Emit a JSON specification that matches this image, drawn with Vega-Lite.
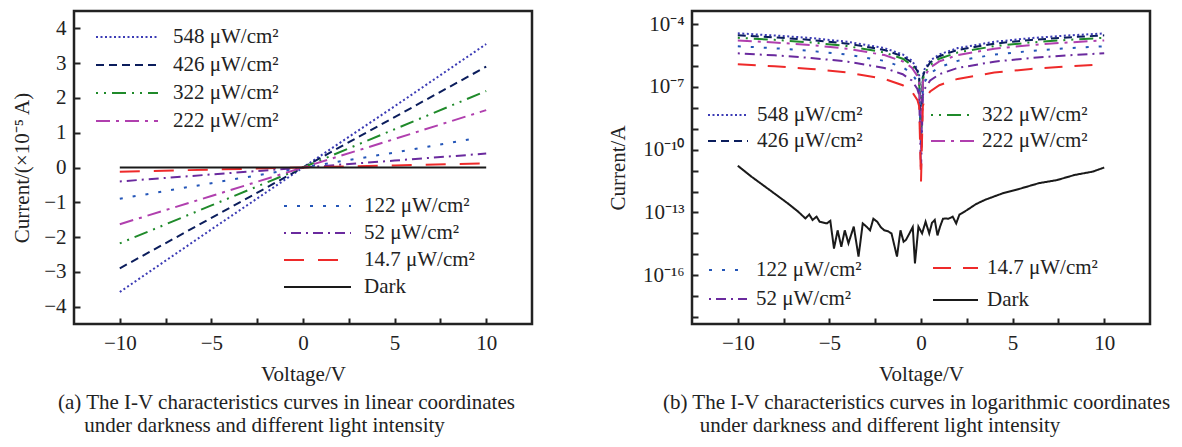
{
  "$schema": "https://vega.github.io/schema/vega-lite/v6.json",
  "background": "white",
  "padding": {"left": 10, "top": 9, "right": 2, "bottom": 2},
  "bounds": "flush",
  "spacing": 160,
  "config": {
    "font": "Liberation Serif",
    "view": {"stroke": "#222", "strokeWidth": 2.5},
    "axis": {"domain": false, "grid": false, "tickColor": "#222", "tickWidth": 2, "tickSize": -6, "labelFontSize": 21, "labelColor": "#222", "titleFontSize": 21, "titleFontWeight": "normal", "titleColor": "#222", "labelPadding": 14},
    "legend": {"labelFontSize": 21, "labelColor": "#222", "padding": 0, "symbolStrokeWidth": 3, "orient": "none", "title": null, "clipHeight": 20},
    "line": {"strokeWidth": 2, "clip": true}
  },
  "datasets": {
    "lin": [
      {"s": "548", "v": -10, "i": -3.58}, {"s": "548", "v": -5, "i": -1.78}, {"s": "548", "v": 0, "i": 0}, {"s": "548", "v": 5, "i": 1.76}, {"s": "548", "v": 10, "i": 3.55},
      {"s": "426", "v": -10, "i": -2.9}, {"s": "426", "v": -5, "i": -1.45}, {"s": "426", "v": 0, "i": 0}, {"s": "426", "v": 5, "i": 1.45}, {"s": "426", "v": 10, "i": 2.9},
      {"s": "322", "v": -10, "i": -2.18}, {"s": "322", "v": -5, "i": -1.09}, {"s": "322", "v": 0, "i": 0}, {"s": "322", "v": 5, "i": 1.1}, {"s": "322", "v": 10, "i": 2.2},
      {"s": "222", "v": -10, "i": -1.63}, {"s": "222", "v": -5, "i": -0.82}, {"s": "222", "v": 0, "i": 0}, {"s": "222", "v": 5, "i": 0.82}, {"s": "222", "v": 10, "i": 1.65},
      {"s": "122", "v": -10, "i": -0.9}, {"s": "122", "v": -5, "i": -0.45}, {"s": "122", "v": 0, "i": 0}, {"s": "122", "v": 5, "i": 0.43}, {"s": "122", "v": 9.5, "i": 0.85},
      {"s": "52", "v": -10, "i": -0.4}, {"s": "52", "v": -5, "i": -0.2}, {"s": "52", "v": 0, "i": 0}, {"s": "52", "v": 5, "i": 0.2}, {"s": "52", "v": 10, "i": 0.4},
      {"s": "14.7", "v": -10, "i": -0.12}, {"s": "14.7", "v": -5, "i": -0.06}, {"s": "14.7", "v": 0, "i": 0}, {"s": "14.7", "v": 5, "i": 0.06}, {"s": "14.7", "v": 10, "i": 0.12},
      {"s": "Dark", "v": -10, "i": 0}, {"s": "Dark", "v": -5, "i": 0}, {"s": "Dark", "v": 0, "i": 0}, {"s": "Dark", "v": 5, "i": 0}, {"s": "Dark", "v": 10, "i": 0}
    ],
    "logd": [
      {"s": "548", "v": -10, "i": 3.6e-5}, {"s": "548", "v": -8, "i": 2.85e-5}, {"s": "548", "v": -6, "i": 2.15e-5}, {"s": "548", "v": -4, "i": 1.42e-5}, {"s": "548", "v": -2, "i": 7.1e-6}, {"s": "548", "v": -1, "i": 3.55e-6}, {"s": "548", "v": -0.5, "i": 1.8e-6}, {"s": "548", "v": -0.2, "i": 7.1e-7}, {"s": "548", "v": -0.1, "i": 3.6e-7}, {"s": "548", "v": 0, "i": 5e-10}, {"s": "548", "v": 0.1, "i": 3.6e-7}, {"s": "548", "v": 0.2, "i": 7.1e-7}, {"s": "548", "v": 0.5, "i": 1.8e-6}, {"s": "548", "v": 1, "i": 3.55e-6}, {"s": "548", "v": 2, "i": 7.1e-6}, {"s": "548", "v": 4, "i": 1.42e-5}, {"s": "548", "v": 6, "i": 2.13e-5}, {"s": "548", "v": 8, "i": 2.84e-5}, {"s": "548", "v": 10, "i": 3.55e-5},
      {"s": "426", "v": -10, "i": 2.9e-5}, {"s": "426", "v": -8, "i": 2.3e-5}, {"s": "426", "v": -6, "i": 1.74e-5}, {"s": "426", "v": -4, "i": 1.16e-5}, {"s": "426", "v": -2, "i": 5.8e-6}, {"s": "426", "v": -1, "i": 2.9e-6}, {"s": "426", "v": -0.5, "i": 1.45e-6}, {"s": "426", "v": -0.2, "i": 5.8e-7}, {"s": "426", "v": -0.1, "i": 2.9e-7}, {"s": "426", "v": 0, "i": 2e-10}, {"s": "426", "v": 0.1, "i": 2.9e-7}, {"s": "426", "v": 0.2, "i": 5.8e-7}, {"s": "426", "v": 0.5, "i": 1.45e-6}, {"s": "426", "v": 1, "i": 2.9e-6}, {"s": "426", "v": 2, "i": 5.8e-6}, {"s": "426", "v": 4, "i": 1.16e-5}, {"s": "426", "v": 6, "i": 1.74e-5}, {"s": "426", "v": 8, "i": 2.3e-5}, {"s": "426", "v": 10, "i": 2.9e-5},
      {"s": "322", "v": -10, "i": 2.2e-5}, {"s": "322", "v": -8, "i": 1.76e-5}, {"s": "322", "v": -6, "i": 1.32e-5}, {"s": "322", "v": -4, "i": 8.8e-6}, {"s": "322", "v": -2, "i": 4.4e-6}, {"s": "322", "v": -1, "i": 2.2e-6}, {"s": "322", "v": -0.5, "i": 1.1e-6}, {"s": "322", "v": -0.2, "i": 4.4e-7}, {"s": "322", "v": -0.1, "i": 2.2e-7}, {"s": "322", "v": 0, "i": 3e-10}, {"s": "322", "v": 0.1, "i": 2.2e-7}, {"s": "322", "v": 0.2, "i": 4.4e-7}, {"s": "322", "v": 0.5, "i": 1.1e-6}, {"s": "322", "v": 1, "i": 2.2e-6}, {"s": "322", "v": 2, "i": 4.4e-6}, {"s": "322", "v": 4, "i": 8.8e-6}, {"s": "322", "v": 6, "i": 1.32e-5}, {"s": "322", "v": 8, "i": 1.76e-5}, {"s": "322", "v": 10, "i": 2.2e-5},
      {"s": "222", "v": -10, "i": 1.65e-5}, {"s": "222", "v": -8, "i": 1.32e-5}, {"s": "222", "v": -6, "i": 9.9e-6}, {"s": "222", "v": -4, "i": 6.6e-6}, {"s": "222", "v": -2, "i": 3.3e-6}, {"s": "222", "v": -1, "i": 1.65e-6}, {"s": "222", "v": -0.5, "i": 8.3e-7}, {"s": "222", "v": -0.2, "i": 3.3e-7}, {"s": "222", "v": -0.1, "i": 1.65e-7}, {"s": "222", "v": 0, "i": 1e-10}, {"s": "222", "v": 0.1, "i": 1.65e-7}, {"s": "222", "v": 0.2, "i": 3.3e-7}, {"s": "222", "v": 0.5, "i": 8.3e-7}, {"s": "222", "v": 1, "i": 1.65e-6}, {"s": "222", "v": 2, "i": 3.3e-6}, {"s": "222", "v": 4, "i": 6.6e-6}, {"s": "222", "v": 6, "i": 9.9e-6}, {"s": "222", "v": 8, "i": 1.32e-5}, {"s": "222", "v": 10, "i": 1.65e-5},
      {"s": "122", "v": -10, "i": 8.7e-6}, {"s": "122", "v": -8, "i": 7e-6}, {"s": "122", "v": -6, "i": 5.2e-6}, {"s": "122", "v": -4, "i": 3.5e-6}, {"s": "122", "v": -2, "i": 1.74e-6}, {"s": "122", "v": -1, "i": 8.7e-7}, {"s": "122", "v": -0.5, "i": 4.4e-7}, {"s": "122", "v": -0.2, "i": 1.74e-7}, {"s": "122", "v": -0.1, "i": 8.7e-8}, {"s": "122", "v": 0, "i": 2e-10}, {"s": "122", "v": 0.1, "i": 8.7e-8}, {"s": "122", "v": 0.2, "i": 1.74e-7}, {"s": "122", "v": 0.5, "i": 4.4e-7}, {"s": "122", "v": 1, "i": 8.7e-7}, {"s": "122", "v": 2, "i": 1.74e-6}, {"s": "122", "v": 4, "i": 3.5e-6}, {"s": "122", "v": 6, "i": 5.2e-6}, {"s": "122", "v": 8, "i": 7e-6}, {"s": "122", "v": 10, "i": 8.7e-6},
      {"s": "52", "v": -10, "i": 4e-6}, {"s": "52", "v": -8, "i": 3.2e-6}, {"s": "52", "v": -6, "i": 2.4e-6}, {"s": "52", "v": -4, "i": 1.6e-6}, {"s": "52", "v": -2, "i": 8e-7}, {"s": "52", "v": -1, "i": 4e-7}, {"s": "52", "v": -0.5, "i": 2e-7}, {"s": "52", "v": -0.2, "i": 8e-8}, {"s": "52", "v": -0.1, "i": 4e-8}, {"s": "52", "v": 0, "i": 1e-11}, {"s": "52", "v": 0.1, "i": 4e-8}, {"s": "52", "v": 0.2, "i": 8e-8}, {"s": "52", "v": 0.5, "i": 2e-7}, {"s": "52", "v": 1, "i": 4e-7}, {"s": "52", "v": 2, "i": 8e-7}, {"s": "52", "v": 4, "i": 1.6e-6}, {"s": "52", "v": 6, "i": 2.4e-6}, {"s": "52", "v": 8, "i": 3.2e-6}, {"s": "52", "v": 10, "i": 4e-6},
      {"s": "14.7", "v": -10, "i": 1.2e-6}, {"s": "14.7", "v": -8, "i": 9.6e-7}, {"s": "14.7", "v": -6, "i": 7.2e-7}, {"s": "14.7", "v": -4, "i": 4.8e-7}, {"s": "14.7", "v": -2, "i": 2.4e-7}, {"s": "14.7", "v": -1, "i": 1.2e-7}, {"s": "14.7", "v": -0.5, "i": 6e-8}, {"s": "14.7", "v": -0.2, "i": 2.4e-8}, {"s": "14.7", "v": -0.1, "i": 1.2e-8}, {"s": "14.7", "v": 0, "i": 3e-12}, {"s": "14.7", "v": 0.1, "i": 1.2e-8}, {"s": "14.7", "v": 0.2, "i": 2.4e-8}, {"s": "14.7", "v": 0.5, "i": 6e-8}, {"s": "14.7", "v": 1, "i": 1.2e-7}, {"s": "14.7", "v": 2, "i": 2.4e-7}, {"s": "14.7", "v": 4, "i": 4.8e-7}, {"s": "14.7", "v": 6, "i": 7.2e-7}, {"s": "14.7", "v": 8, "i": 9.6e-7}, {"s": "14.7", "v": 10, "i": 1.2e-6},
      {"s": "Dark", "v": -10, "i": 1.7e-11}, {"s": "Dark", "v": -9.25, "i": 5.1e-12}, {"s": "Dark", "v": -8.27, "i": 1.2e-12}, {"s": "Dark", "v": -7.29, "i": 2.8e-13}, {"s": "Dark", "v": -6.71, "i": 1.1e-13}, {"s": "Dark", "v": -6.31, "i": 5.2e-14}, {"s": "Dark", "v": -6.1, "i": 8e-14}, {"s": "Dark", "v": -5.92, "i": 4.4e-14}, {"s": "Dark", "v": -5.7, "i": 6.3e-14}, {"s": "Dark", "v": -5.53, "i": 3.6e-14}, {"s": "Dark", "v": -5.14, "i": 3e-14}, {"s": "Dark", "v": -4.95, "i": 4e-14}, {"s": "Dark", "v": -4.75, "i": 1.9e-15}, {"s": "Dark", "v": -4.55, "i": 1.4e-14}, {"s": "Dark", "v": -4.35, "i": 2.3e-15}, {"s": "Dark", "v": -4.16, "i": 1.4e-14}, {"s": "Dark", "v": -3.96, "i": 3.4e-15}, {"s": "Dark", "v": -3.67, "i": 2.1e-14}, {"s": "Dark", "v": -3.41, "i": 7.8e-16}, {"s": "Dark", "v": -3.18, "i": 3e-14}, {"s": "Dark", "v": -2.95, "i": 2e-14}, {"s": "Dark", "v": -2.78, "i": 1.4e-14}, {"s": "Dark", "v": -2.6, "i": 5e-14}, {"s": "Dark", "v": -2.39, "i": 3.6e-14}, {"s": "Dark", "v": -2.2, "i": 2e-14}, {"s": "Dark", "v": -2.0, "i": 1.4e-14}, {"s": "Dark", "v": -1.8, "i": 1.26e-14}, {"s": "Dark", "v": -1.61, "i": 1e-14}, {"s": "Dark", "v": -1.31, "i": 7.8e-16}, {"s": "Dark", "v": -1.12, "i": 1.4e-14}, {"s": "Dark", "v": -0.95, "i": 4e-15}, {"s": "Dark", "v": -0.82, "i": 4.9e-15}, {"s": "Dark", "v": -0.63, "i": 1e-14}, {"s": "Dark", "v": -0.45, "i": 2e-14}, {"s": "Dark", "v": -0.33, "i": 3.7e-16}, {"s": "Dark", "v": -0.14, "i": 2.1e-14}, {"s": "Dark", "v": 0.06, "i": 1e-14}, {"s": "Dark", "v": 0.25, "i": 3.6e-14}, {"s": "Dark", "v": 0.45, "i": 1e-14}, {"s": "Dark", "v": 0.6, "i": 3.2e-14}, {"s": "Dark", "v": 0.75, "i": 4.4e-14}, {"s": "Dark", "v": 0.9, "i": 8e-15}, {"s": "Dark", "v": 1.04, "i": 2.1e-14}, {"s": "Dark", "v": 1.2, "i": 5e-14}, {"s": "Dark", "v": 1.33, "i": 5.2e-14}, {"s": "Dark", "v": 1.5, "i": 5e-14}, {"s": "Dark", "v": 1.73, "i": 6.3e-14}, {"s": "Dark", "v": 1.92, "i": 3e-14}, {"s": "Dark", "v": 2.1, "i": 8e-14}, {"s": "Dark", "v": 2.22, "i": 9.1e-14}, {"s": "Dark", "v": 2.51, "i": 1.3e-13}, {"s": "Dark", "v": 3.0, "i": 2.5e-13}, {"s": "Dark", "v": 3.49, "i": 4e-13}, {"s": "Dark", "v": 4.47, "i": 8.3e-13}, {"s": "Dark", "v": 5.45, "i": 1.4e-12}, {"s": "Dark", "v": 6.43, "i": 2.5e-12}, {"s": "Dark", "v": 7.41, "i": 3.5e-12}, {"s": "Dark", "v": 8.39, "i": 6.2e-12}, {"s": "Dark", "v": 9.37, "i": 8.9e-12}, {"s": "Dark", "v": 10, "i": 1.4e-11}
    ]
  },
  "hconcat": [
    {
      "width": 458,
      "height": 313,
      "title": {"text": ["(a) The I-V characteristics curves in linear coordinates", "\u200b\u00a0\u00a0\u00a0\u00a0\u00a0under darkness and different light intensity"], "orient": "bottom", "anchor": "start", "frame": "group", "dx": -16, "offset": 8, "fontSize": 21, "fontWeight": "normal", "color": "#222", "lineHeight": 23},
      "data": {"name": "lin"},
      "encoding": {
        "x": {"field": "v", "type": "quantitative", "scale": {"domain": [-12.5, 12.5], "nice": false, "zero": false}, "axis": {"title": "Voltage/V", "values": [-10, -7.5, -5, -2.5, 0, 2.5, 5, 7.5, 10], "format": "d", "labelExpr": "datum.value % 5 === 0 ? datum.label : ''", "titlePadding": 10}},
        "y": {"field": "i", "type": "quantitative", "scale": {"domain": [-4.5, 4.5], "nice": false}, "axis": {"title": "Current/(×10⁻⁵ A)", "values": [-4, -3.5, -3, -2.5, -2, -1.5, -1, -0.5, 0, 0.5, 1, 1.5, 2, 2.5, 3, 3.5, 4], "format": "d", "labelExpr": "datum.value % 1 === 0 ? datum.label : ''", "titlePadding": 11}}
      },
      "layer": [
        {
          "transform": [{"filter": {"field": "s", "oneOf": ["548", "426", "322", "222"]}}],
          "mark": {"type": "line"},
          "encoding": {
            "color": {"field": "s", "type": "nominal", "scale": {"domain": ["548", "426", "322", "222"], "range": ["#3b3bb5", "#0b1d5c", "#1f8a2a", "#b03fae"]}, "legend": {"legendX": 21, "legendY": 16, "symbolSize": 3844, "labelOffset": 14, "rowPadding": 7, "labelExpr": "datum.label + ' μW/cm²'"}},
            "strokeDash": {"field": "s", "type": "nominal", "scale": {"domain": ["548", "426", "322", "222"], "range": [[2, 2.5], [8, 5], [2, 6, 2, 6, 14, 6], [14, 6, 3, 6]]}, "legend": {"legendX": 21, "legendY": 16, "symbolSize": 3844, "labelOffset": 14, "rowPadding": 7, "labelExpr": "datum.label + ' μW/cm²'"}}
          }
        },
        {
          "transform": [{"filter": {"field": "s", "oneOf": ["122", "52", "14.7", "Dark"]}}],
          "mark": {"type": "line"},
          "encoding": {
            "color": {"field": "s", "type": "nominal", "scale": {"domain": ["122", "52", "14.7", "Dark"], "range": ["#2456b8", "#6a2a9e", "#ee2a2a", "#1a1a1a"]}, "legend": {"legendX": 209, "legendY": 185, "symbolSize": 4489, "labelOffset": 12, "rowPadding": 6, "labelExpr": "datum.label == 'Dark' ? 'Dark' : datum.label + ' μW/cm²'"}},
            "strokeDash": {"field": "s", "type": "nominal", "scale": {"domain": ["122", "52", "14.7", "Dark"], "range": [[3, 10], [2, 5, 10, 5], [20, 14], [1, 0]]}, "legend": {"legendX": 209, "legendY": 185, "symbolSize": 4489, "labelOffset": 12, "rowPadding": 6, "labelExpr": "datum.label == 'Dark' ? 'Dark' : datum.label + ' μW/cm²'"}}
          }
        }
      ],
      "resolve": {"scale": {"color": "independent", "strokeDash": "independent"}}
    },
    {
      "width": 458,
      "height": 313,
      "title": {"text": ["(b) The I-V characteristics curves in logarithmic coordinates", "\u200b\u00a0\u00a0\u00a0\u00a0\u00a0\u00a0\u00a0under darkness and different light intensity"], "orient": "bottom", "anchor": "start", "frame": "group", "dx": -29, "offset": 8, "fontSize": 21, "fontWeight": "normal", "color": "#222", "lineHeight": 23},
      "data": {"name": "logd"},
      "encoding": {
        "x": {"field": "v", "type": "quantitative", "scale": {"domain": [-12.5, 12.5], "nice": false, "zero": false}, "axis": {"title": "Voltage/V", "values": [-10, -7.5, -5, -2.5, 0, 2.5, 5, 7.5, 10], "format": "d", "labelExpr": "datum.value % 5 === 0 ? datum.label : ''", "titlePadding": 10}},
        "y": {"field": "i", "type": "quantitative", "scale": {"type": "log", "domain": [4.7e-19, 4.2e-4], "nice": false}, "axis": {"title": "Current/A", "values": [1e-18, 1e-17, 1e-16, 1e-15, 1e-14, 1e-13, 1e-12, 1e-11, 1e-10, 1e-9, 1e-8, 1e-7, 1e-6, 1e-5, 1e-4], "labelExpr": "round(log(datum.value)/LN10) == -4 ? '10⁻⁴' : round(log(datum.value)/LN10) == -7 ? '10⁻⁷' : round(log(datum.value)/LN10) == -10 ? '10⁻¹⁰' : round(log(datum.value)/LN10) == -13 ? '10⁻¹³' : round(log(datum.value)/LN10) == -16 ? '10⁻¹⁶' : ''", "titlePadding": 14}}
      },
      "layer": [
        {
          "transform": [{"filter": {"field": "s", "oneOf": ["548", "426"]}}],
          "mark": {"type": "line"},
          "encoding": {
            "color": {"field": "s", "type": "nominal", "scale": {"domain": ["548", "426"], "range": ["#3b3bb5", "#0b1d5c"]}, "legend": {"legendX": 15, "legendY": 94, "symbolSize": 1600, "labelOffset": 8, "rowPadding": 5, "labelExpr": "datum.label + ' μW/cm²'"}},
            "strokeDash": {"field": "s", "type": "nominal", "scale": {"domain": ["548", "426"], "range": [[2, 2.5], [8, 5]]}, "legend": {"legendX": 15, "legendY": 94, "symbolSize": 1600, "labelOffset": 8, "rowPadding": 5, "labelExpr": "datum.label + ' μW/cm²'"}}
          }
        },
        {
          "transform": [{"filter": {"field": "s", "oneOf": ["322", "222"]}}],
          "mark": {"type": "line"},
          "encoding": {
            "color": {"field": "s", "type": "nominal", "scale": {"domain": ["322", "222"], "range": ["#1f8a2a", "#b03fae"]}, "legend": {"legendX": 238, "legendY": 94, "symbolSize": 1849, "labelOffset": 7, "rowPadding": 5, "labelExpr": "datum.label + ' μW/cm²'"}},
            "strokeDash": {"field": "s", "type": "nominal", "scale": {"domain": ["322", "222"], "range": [[2, 6, 2, 6, 14, 6], [14, 6, 3, 6]]}, "legend": {"legendX": 238, "legendY": 94, "symbolSize": 1849, "labelOffset": 7, "rowPadding": 5, "labelExpr": "datum.label + ' μW/cm²'"}}
          }
        },
        {
          "transform": [{"filter": {"field": "s", "oneOf": ["122", "52"]}}],
          "mark": {"type": "line"},
          "encoding": {
            "color": {"field": "s", "type": "nominal", "scale": {"domain": ["122", "52"], "range": ["#2456b8", "#6a2a9e"]}, "legend": {"legendX": 16, "legendY": 249, "symbolSize": 1444, "labelOffset": 8, "rowPadding": 8, "labelExpr": "datum.label + ' μW/cm²'"}},
            "strokeDash": {"field": "s", "type": "nominal", "scale": {"domain": ["122", "52"], "range": [[3, 10], [2, 5, 10, 5]]}, "legend": {"legendX": 16, "legendY": 249, "symbolSize": 1444, "labelOffset": 8, "rowPadding": 8, "labelExpr": "datum.label + ' μW/cm²'"}}
          }
        },
        {
          "transform": [{"filter": {"field": "s", "oneOf": ["14.7", "Dark"]}}],
          "mark": {"type": "line"},
          "encoding": {
            "color": {"field": "s", "type": "nominal", "scale": {"domain": ["14.7", "Dark"], "range": ["#ee2a2a", "#1a1a1a"]}, "legend": {"legendX": 240, "legendY": 247, "symbolSize": 2025, "labelOffset": 8, "rowPadding": 11, "labelExpr": "datum.label == 'Dark' ? 'Dark' : datum.label + ' μW/cm²'"}},
            "strokeDash": {"field": "s", "type": "nominal", "scale": {"domain": ["14.7", "Dark"], "range": [[18, 12], [1, 0]]}, "legend": {"legendX": 240, "legendY": 247, "symbolSize": 2025, "labelOffset": 8, "rowPadding": 11, "labelExpr": "datum.label == 'Dark' ? 'Dark' : datum.label + ' μW/cm²'"}}
          }
        }
      ],
      "resolve": {"scale": {"color": "independent", "strokeDash": "independent"}}
    }
  ]
}
